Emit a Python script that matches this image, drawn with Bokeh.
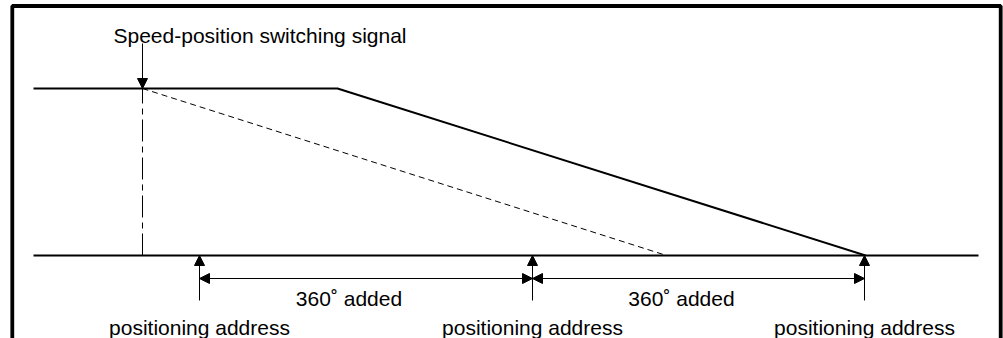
from bokeh.plotting import figure
from bokeh.models import Range1d, Arrow, NormalHead
from bokeh.core.properties import value
from bokeh.embed import file_html
from bokeh.resources import INLINE

# ---- diagram data (x: travel position, y: speed) ----
axis_x = [33, 978]                 # extent of the position axis
speed_x = [33, 337, 865]           # speed profile: constant, then deceleration
speed_y = [100, 100, 0]
switch_x = 142                     # speed-position switching signal
plain_decel_x = [142, 666]         # deceleration without 360 deg addition
plain_decel_y = [100, 0]
address_x = [199, 532, 864]        # positioning addresses
address_labels = ["positioning address", "positioning address", "positioning address"]
added_label = "360\u02da added"
signal_label = "Speed-position switching signal"

FONT = value("Liberation Sans")

W, H = 1003, 338
OX, OY = 0, 0   # page offset of the figure
# pixel scale: 1 speed unit = 1.67 px, speed 0 at page y=255
def py(px):
    return (255 - px) / 1.67

Y0, Y1 = py(OY + H), py(OY)
p = figure(width=W, height=H, x_range=Range1d(OX, OX + W), y_range=Range1d(Y0, Y1),
           output_backend="svg", toolbar_location=None, min_border=0)
p.axis.visible = False
p.xgrid.visible = False
p.ygrid.visible = False
p.outline_line_color = None
p.background_fill_color = "white"
p.border_fill_color = "white"

# frame
p.line([11.8, 11.8, 1000.2, 1000.2], [Y0, py(5.5), py(5.5), Y0], line_color="black", line_width=3.8)

# axis line and speed profile
p.line(axis_x, [0, 0], line_color="black", line_width=2)
p.line(speed_x, speed_y, line_color="black", line_width=2)
p.line(plain_decel_x, plain_decel_y, line_color="black", line_width=1, line_dash="6 4")
p.line([switch_x, switch_x], [0, 100], line_color="black", line_width=1, line_dash="22 5 6 5")

# signal arrow
head = dict(size=10, fill_color="black", line_color="black")
p.add_layout(Arrow(end=NormalHead(**head), x_start=switch_x, y_start=py(43),
                   x_end=switch_x, y_end=100, line_color="black", line_width=1))
p.text(x=[switch_x - 29], y=[py(35)], text=[signal_label], text_font=FONT,
       text_font_size="21px", text_color="black", text_baseline="alphabetic", text_align="left")

# address arrows
for ax in address_x:
    p.add_layout(Arrow(end=NormalHead(**head), x_start=ax, y_start=py(300),
                       x_end=ax, y_end=0, line_color="black", line_width=1))
p.text(x=address_x, y=[py(327)] * 3, text=address_labels, text_font=FONT,
       text_font_size="21px", text_color="black", text_baseline="alphabetic", text_align="center")

# dimension lines
dim_y = py(278)
for a, b in zip(address_x[:-1], address_x[1:]):
    p.add_layout(Arrow(start=NormalHead(**head), end=NormalHead(**head),
                       x_start=a, y_start=dim_y, x_end=b, y_end=dim_y,
                       line_color="black", line_width=1))
mids = [(a + b) / 2 for a, b in zip(address_x[:-1], address_x[1:])]
p.text(x=mids, y=[py(298)] * 2, text=[added_label] * 2, text_font=FONT, x_offset=-17,
       text_font_size="21px", text_color="black", text_baseline="alphabetic", text_align="center")

open("out.html", "w").write(file_html(p, INLINE))
